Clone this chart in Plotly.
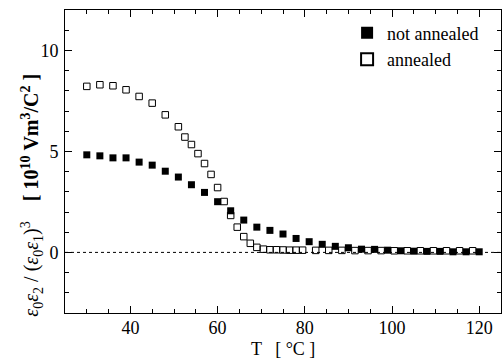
import plotly.graph_objects as go

# Data
T_not = [30, 33, 36, 39, 42, 45, 48, 51, 54, 57, 60, 63, 66, 69, 72, 75, 78, 81,
         84, 87, 90, 93, 96, 99, 102, 105, 108, 111, 114, 117, 120]
Y_not = [4.83, 4.78, 4.68, 4.68, 4.47, 4.32, 4.02, 3.73, 3.35, 2.97, 2.51, 2.06,
         1.60, 1.25, 1.09, 0.91, 0.69, 0.53, 0.40, 0.30, 0.23, 0.16, 0.15, 0.11,
         0.08, 0.06, 0.05, 0.05, 0.03, 0.03, 0.03]

T_ann = [30, 33, 36, 39, 42, 45, 48, 51, 52.5, 54, 55.5, 57, 58.5, 60, 61.5, 63,
         64.5, 66, 67.5, 69, 70.5, 72, 73.5, 75, 76.5, 78, 79.5, 82.5, 85.5, 88.5,
         91.5, 94.5, 97.5, 100.5, 103.5, 106.5, 109.5, 112.5, 115.5, 118.5]
Y_ann = [8.22, 8.30, 8.25, 8.05, 7.72, 7.39, 6.81, 6.22, 5.71, 5.34, 4.89, 4.40,
         3.86, 3.21, 2.52, 1.83, 1.25, 0.78, 0.45, 0.25, 0.16, 0.13, 0.13, 0.12,
         0.11, 0.11, 0.11, 0.10, 0.10, 0.10, 0.09, 0.09, 0.09, 0.08, 0.08, 0.08,
         0.08, 0.08, 0.08, 0.08]

X_RANGE = [25, 125]
Y_RANGE = [-3, 12]
X_TICKS = [40, 60, 80, 100, 120]
Y_TICKS = [0, 5, 10]

FONT = "Liberation Serif"

fig = go.Figure()
fig.add_trace(go.Scatter(
    x=T_ann, y=Y_ann, mode="markers", name="annealed",
    marker=dict(symbol="square-open", size=6.5, color="black",
                line=dict(width=1, color="#222")),
))
fig.add_trace(go.Scatter(
    x=T_not, y=Y_not, mode="markers", name="not annealed",
    marker=dict(symbol="square", size=7, color="black", line=dict(width=0)),
))

fig.add_shape(type="line", xref="paper", yref="y", x0=0, x1=1, y0=0, y1=0,
              line=dict(color="black", width=1, dash="dot"), layer="below")

axis_common = dict(
    showline=True, linecolor="black", linewidth=1, mirror="allticks",
    ticks="inside", ticklen=7, tickwidth=1, tickcolor="black",
    showgrid=False, zeroline=False,
    tickfont=dict(family=FONT, size=18, color="black"),
)
fig.update_xaxes(range=X_RANGE, tickvals=X_TICKS, ticklabelstandoff=-2,
                 minor=dict(dtick=5, ticks="inside", ticklen=4, tickcolor="black", showgrid=False),
                 **axis_common)
fig.update_yaxes(range=Y_RANGE, tickvals=Y_TICKS, ticklabelstandoff=2,
                 minor=dict(dtick=1, ticks="inside", ticklen=4, tickcolor="black", showgrid=False),
                 **axis_common)

fig.add_annotation(
    text="<i>ε</i><sub>0</sub><i>ε</i><sub>2</sub> / (<i>ε</i><sub>0</sub><i>ε</i><sub>1</sub>)<sup>3</sup>"
         "    <b>[ 10<sup>10</sup> Vm<sup>3</sup>/C<sup>2</sup> ]</b>",
    xref="paper", yref="paper", x=-0.076, y=0.39, textangle=-90,
    showarrow=False, xanchor="center", yanchor="middle",
    font=dict(family=FONT, size=20, color="black"),
)
fig.add_annotation(
    text="T   [ °C ]", xref="paper", yref="paper", x=0.5, y=-0.118,
    showarrow=False, xanchor="center", yanchor="middle",
    font=dict(family=FONT, size=18, color="black"),
)

fig.update_layout(
    width=502, height=362,
    margin=dict(l=65, r=1, t=10, b=49),
    plot_bgcolor="white", paper_bgcolor="white",
    font=dict(family=FONT, size=18, color="black"),
    showlegend=True,
    legend=dict(x=0.647, y=0.985, xanchor="left", yanchor="top",
                traceorder="reversed", bgcolor="rgba(0,0,0,0)",
                font=dict(family=FONT, size=18, color="black"),
                itemwidth=30, itemsizing="constant", tracegroupgap=0),
)

fig.write_html("out.html")
